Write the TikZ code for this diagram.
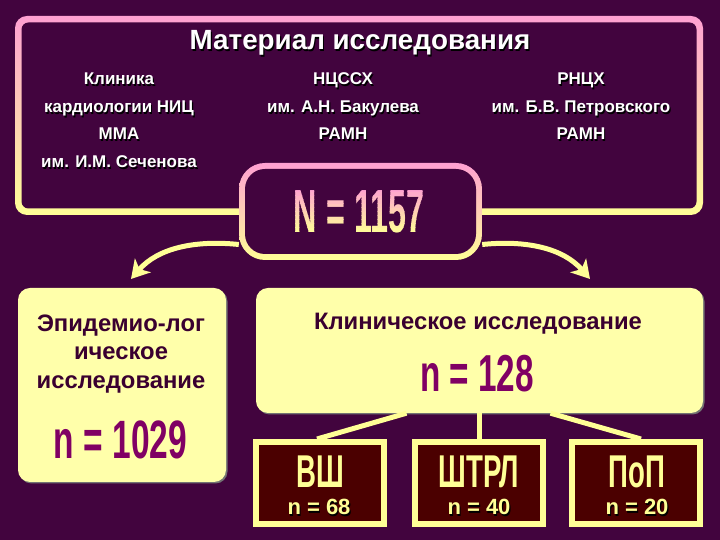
\documentclass[tikz,border=0pt]{standalone}
\usepackage{fontspec}
\setmainfont{Liberation Sans}
\usetikzlibrary{arrows.meta,shadows}
\definecolor{bg}{RGB}{66,4,62}
\definecolor{pinkc}{RGB}{255,160,210}
\definecolor{yelc}{RGB}{255,255,150}
\definecolor{boxfill}{RGB}{255,255,170}
\definecolor{darktext}{RGB}{58,0,48}
\definecolor{numcol}{RGB}{128,0,100}
\definecolor{maroon}{RGB}{75,0,0}
\newcommand\shtx[2]{\leavevmode\rlap{\kern1.2pt\raisebox{-1.2pt}{\textcolor{#1}{#2}}}#2}
\newcommand\fsz[1]{\fontsize{#1}{#1}\selectfont\bfseries}
\begin{document}
\begin{tikzpicture}[x=1pt,y=1pt,
  gbox/.style={top color=pinkc, bottom color=yelc, inner sep=0},
  ibox/.style={fill=bg, inner sep=0},
  wtext/.style={font=\fsz{17}, text=white, anchor=base, inner sep=0},
  dtext/.style={font=\fsz{23.8}, text=darktext, anchor=base, inner sep=0},
  ybox/.style={fill=boxfill, rounded corners=12pt, inner sep=0,
    drop shadow={shadow xshift=1.5pt, shadow yshift=-1.5pt, fill=black!55, opacity=1}},
  sbox/.style={fill=maroon, draw=yelc, line width=6pt, minimum width=128pt, minimum height=82pt, inner sep=0,
    drop shadow={shadow xshift=1.5pt, shadow yshift=-1.5pt, fill=black!55, opacity=1}},
  conn/.style={draw=yelc, line width=5pt},
  arr/.style={draw=yelc, line width=5pt, -{Stealth[length=18pt,width=21pt,inset=5pt]}},
  bignum/.style={anchor=base, inner sep=0, text=numcol},
  stext/.style={anchor=base, inner sep=0, text=yelc}
]
\useasboundingbox (0,0) rectangle (720,540);
\fill[bg] (0,0) rectangle (720,540);

% top box
\node[gbox, rounded corners=12pt, minimum width=688pt, minimum height=199pt] (topbox) at (359,424.5) {};
\node[ibox, rounded corners=7pt, minimum width=675pt, minimum height=186pt] (topin) at (topbox.center) {};
\node[wtext, font=\fsz{27.8}] (title) at (360,490) {\shtx{black}{Материал исследования}};

\node[wtext] (c11) at (119,455) {\shtx{black}{Клиника}};
\node[wtext] (c12) at (119,427) {\shtx{black}{кардиологии НИЦ}};
\node[wtext] (c13) at (119,400) {\shtx{black}{ММА}};
\node[wtext] (c14) at (119,372) {\shtx{black}{им. И.М. Сеченова}};
\node[wtext] (c21) at (343,455) {\shtx{black}{НЦССХ}};
\node[wtext] (c22) at (343,427) {\shtx{black}{им. А.Н. Бакулева}};
\node[wtext] (c23) at (343,400) {\shtx{black}{РАМН}};
\node[wtext] (c31) at (581,455) {\shtx{black}{РНЦХ}};
\node[wtext] (c32) at (581,427) {\shtx{black}{им. Б.В. Петровского}};
\node[wtext] (c33) at (581,400) {\shtx{black}{РАМН}};

% N box
\node[gbox, rounded corners=26pt, minimum width=243pt, minimum height=97pt] (nbox) at (360.5,328.5) {};
\node[ibox, rounded corners=20pt, minimum width=231pt, minimum height=85pt] (nin) at (nbox.center) {};
\foreach \i in {0,...,13}{
  \pgfmathtruncatemacro\pp{max(0,min(100,(4*\i-5)*100/44))}
  \begin{scope}
    \clip (270,{300+4*\i}) rectangle (450,{304.3+4*\i});
    \node[anchor=base, inner sep=0, text=pinkc!\pp!yelc, font=\fsz{61}] (nt\i) at (359,307) {\scalebox{0.53}[1]{N = 1157}};
  \end{scope}
}

% arrows
\coordinate (ltip) at (131,261);
\coordinate (rtip) at (590,261);
\draw[arr] ([yshift=-33pt]nbox.west) .. controls (195,300) and (158,292) .. (ltip);
\draw[arr] ([yshift=-33pt]nbox.east) .. controls (526,300) and (563,292) .. (rtip);

% left box
\node[ybox, minimum width=208pt, minimum height=194pt] (lbox) at (122,155) {};
\node[dtext] (l1) at (121,208) {Эпидемио-лог};
\node[dtext] (l2) at (121,180) {ическое};
\node[dtext] (l3) at (121,151) {исследование};
\node[bignum, font=\fsz{54}] (l4) at (120.5,81) {\scalebox{0.62}[1]{n = 1029}};

% right box
\node[ybox, minimum width=447pt, minimum height=125pt] (rbox) at (479.5,189.5) {};
\node[dtext] (r1) at (478,210) {Клиническое исследование};
\node[bignum, font=\fsz{52}] (r2) at (477,148) {\scalebox{0.64}[1]{n = 128}};

% connectors
\coordinate (s1) at (317,101);
\coordinate (s3) at (641,101);
\draw[conn] ([xshift=-73pt]rbox.south) -- (s1);
\draw[conn] (rbox.south) -- ++(0,-26);
\draw[conn] ([xshift=71pt]rbox.south) -- (s3);

% small boxes
\node[sbox] (vsh) at (320,57) {};
\node[sbox] (shtrl) at (479,57) {};
\node[sbox] (pop) at (636,57) {};
\node[stext, font=\fsz{46}] (vshT) at (320,52) {\scalebox{0.6}[1]{ВШ}};
\node[stext, font=\fsz{46}] (shtrlT) at (479,52) {\scalebox{0.6}[1]{ШТРЛ}};
\node[stext, font=\fsz{46}] (popT) at (637,52) {\scalebox{0.6}[1]{ПоП}};
\node[stext, font=\fsz{22}] (vshN) at (319,25) {\shtx{black}{n = 68}};
\node[stext, font=\fsz{22}] (shtrlN) at (479,25) {\shtx{black}{n = 40}};
\node[stext, font=\fsz{22}] (popN) at (637,25) {\shtx{black}{n = 20}};
\end{tikzpicture}
\end{document}
